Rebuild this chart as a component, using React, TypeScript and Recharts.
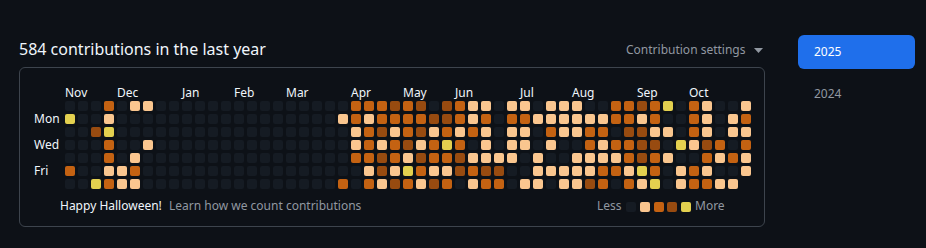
import React from 'react';
import { Scatter, ScatterChart, XAxis, YAxis } from 'recharts';

// contribution level per week (col 0 = first week shown), one array per weekday
const sunLevels = [0, 0, 0, 2, 0, 1, 1, 0, 0, 0, 0, 0, 0, 0, 0, 0, 0, 0, 0, 0, 0, 0, 2, 2, 2, 3, 2, 3, 0, 3, 2, 1, 1, 0, 1, 1, 0, 1, 1, 1, 0, 0, 2, 2, 3, 2, 4, 0, 2, 1, 0, 0, 1];
const monLevels = [4, 0, 0, 1, 0, 0, 0, 0, 0, 0, 0, 0, 0, 0, 0, 0, 0, 0, 0, 0, 0, 1, 2, 1, 2, 2, 2, 2, 3, 3, 2, 1, 2, 0, 2, 2, 1, 1, 1, 1, 1, 1, 2, 2, 1, 2, 0, 0, 2, 1, 0, 1, 2];
const tueLevels = [0, 0, 3, 4, 0, 0, 0, 0, 0, 0, 0, 0, 0, 0, 0, 0, 0, 0, 0, 0, 0, 0, 1, 2, 3, 1, 2, 3, 1, 2, 1, 2, 1, 0, 1, 1, 0, 2, 1, 1, 2, 2, 0, 3, 3, 1, 1, 0, 2, 1, 0, 1, 1];
const wedLevels = [0, 0, 0, 2, 0, 0, 1, 0, 0, 0, 0, 0, 0, 0, 0, 0, 0, 0, 0, 0, 0, 0, 1, 2, 1, 2, 3, 1, 2, 4, 2, 0, 1, 0, 1, 1, 0, 1, 0, 0, 2, 1, 2, 2, 3, 3, 0, 4, 1, 3, 2, 0, 2];
const thuLevels = [0, 0, 0, 2, 0, 1, 0, 0, 0, 0, 0, 0, 0, 0, 0, 0, 0, 0, 0, 0, 0, 0, 2, 2, 3, 2, 1, 3, 2, 2, 3, 1, 1, 1, 1, 0, 1, 0, 0, 1, 1, 1, 1, 2, 3, 2, 1, 0, 0, 2, 1, 2, 1];
const friLevels = [2, 0, 0, 1, 1, 2, 0, 0, 0, 0, 0, 0, 0, 0, 0, 0, 0, 0, 0, 0, 0, 0, 0, 1, 3, 1, 4, 2, 1, 1, 3, 2, 3, 3, 0, 0, 1, 1, 1, 1, 1, 2, 2, 1, 4, 2, 0, 1, 2, 1, 0, 0, 1];
const satLevels = [0, 0, 4, 2, 1, 1, 0, 0, 0, 0, 0, 0, 0, 0, 0, 0, 0, 0, 0, 0, 0, 2, 0, 2, 1, 3, 2, 1, 3, 2, 0, 1, 2, 2, 0, 1, 1, 0, 1, 1, 3, 2, 0, 2, 1, 4, 0, 1, 2, 2, 1, 1];

const monthTicks = [0, 4, 9, 13, 17, 22, 26, 30, 35, 39, 44, 48];
const monthNames = ['Nov', 'Dec', 'Jan', 'Feb', 'Mar', 'Apr', 'May', 'Jun', 'Jul', 'Aug', 'Sep', 'Oct'];
const dayTicks = [1, 3, 5];
const dayNames = ['Mon', 'Wed', 'Fri'];

const LEVEL_COLORS = ['#151b23', '#fac68f', '#c46212', '#984b10', '#e3d04f'];
const FONT = '"Noto Sans", sans-serif';
const FG = '#f0f6fc';
const MUTED = '#9198a1';

const rows = [sunLevels, monLevels, tueLevels, wedLevels, thuLevels, friLevels, satLevels];
const cells: { week: number; day: number; level: number }[] = [];
rows.forEach((row, day) => {
  row.forEach((level, week) => {
    cells.push({ week, day, level });
  });
});

const Cell = (props: any) => {
  const { cx, cy, payload } = props;
  return (
    <rect
      x={cx - 5}
      y={cy - 5}
      width={10}
      height={10}
      rx={2}
      ry={2}
      fill={LEVEL_COLORS[payload.level]}
    />
  );
};

const MonthTick = (props: any) => {
  const { x, y, payload } = props;
  const label = monthNames[monthTicks.indexOf(payload.value)];
  return (
    <text x={x - 5} y={y - 3} fill={FG} fontSize={12} fontFamily={FONT} textAnchor="start">
      {label}
    </text>
  );
};

const DayTick = (props: any) => {
  const { x, y, payload } = props;
  const label = dayNames[dayTicks.indexOf(payload.value)];
  return (
    <text x={x - 29.5} y={y + 4} fill={FG} fontSize={12} fontFamily={FONT} textAnchor="start">
      {label}
    </text>
  );
};

const abs = (left: number, top: number, extra: React.CSSProperties = {}): React.CSSProperties => ({
  position: 'absolute',
  left,
  top,
  whiteSpace: 'nowrap',
  ...extra
});

const App: React.FC = () => {
  return (
    <div
      style={{
        position: 'absolute',
        left: 0,
        top: 0,
        width: 926,
        height: 248,
        background: '#0d1117',
        fontFamily: FONT,
        overflow: 'hidden'
      }}
    >
      <div style={abs(19, 39, { fontSize: 16, lineHeight: '20px', color: FG })}>
        584 contributions in the last year
      </div>
      <div style={abs(626, 42, { fontSize: 12, lineHeight: '16px', color: MUTED })}>
        Contribution settings
        <svg width={9} height={6} style={{ marginLeft: 8, verticalAlign: 'middle' }}>
          <path d="M0 0 L9 0 L4.5 5 Z" fill={MUTED} />
        </svg>
      </div>

      <div
        style={abs(19, 67, {
          width: 746,
          height: 160,
          boxSizing: 'border-box',
          border: '1px solid #3d444d',
          borderRadius: 6
        })}
      />

      <div style={abs(0, 0)}>
        <ScatterChart
          width={780}
          height={200}
          margin={{ top: 79.5, right: 27.5, bottom: 9.5, left: 23.5 }}
        >
          <XAxis
            type="number"
            dataKey="week"
            orientation="top"
            domain={[-0.5, 52.5]}
            ticks={monthTicks}
            interval={0}
            height={20}
            axisLine={false}
            tickLine={false}
            tickSize={0}
            tickMargin={0}
            tick={<MonthTick />}
          />
          <YAxis
            type="number"
            dataKey="day"
            domain={[-0.5, 6.5]}
            reversed
            ticks={dayTicks}
            interval={0}
            width={40}
            axisLine={false}
            tickLine={false}
            tickSize={0}
            tickMargin={0}
            tick={<DayTick />}
          />
          <Scatter data={cells} shape={<Cell />} isAnimationActive={false} />
        </ScatterChart>
      </div>

      <div style={abs(60, 198, { fontSize: 12, lineHeight: '16px', color: FG })}>
        Happy Halloween!
      </div>
      <div style={abs(169, 198, { fontSize: 12, lineHeight: '16px', color: MUTED })}>
        Learn how we count contributions
      </div>

      <div style={abs(597, 198, { fontSize: 12, lineHeight: '16px', color: MUTED })}>Less</div>
      {LEVEL_COLORS.map((c, i) => (
        <div
          key={c}
          style={abs(626 + i * 13.75, 202, {
            width: 10,
            height: 10,
            borderRadius: 2,
            background: c
          })}
        />
      ))}
      <div style={abs(695, 198, { fontSize: 12, lineHeight: '16px', color: MUTED })}>More</div>

      <div
        style={abs(798, 35, {
          width: 117,
          height: 34,
          borderRadius: 6,
          background: '#1f6feb',
          color: '#ffffff',
          fontSize: 12,
          lineHeight: '34px',
          paddingLeft: 16,
          boxSizing: 'border-box'
        })}
      >
        2025
      </div>
      <div style={abs(814, 86, { fontSize: 12, lineHeight: '16px', color: MUTED })}>2024</div>
    </div>
  );
};

export default App;
